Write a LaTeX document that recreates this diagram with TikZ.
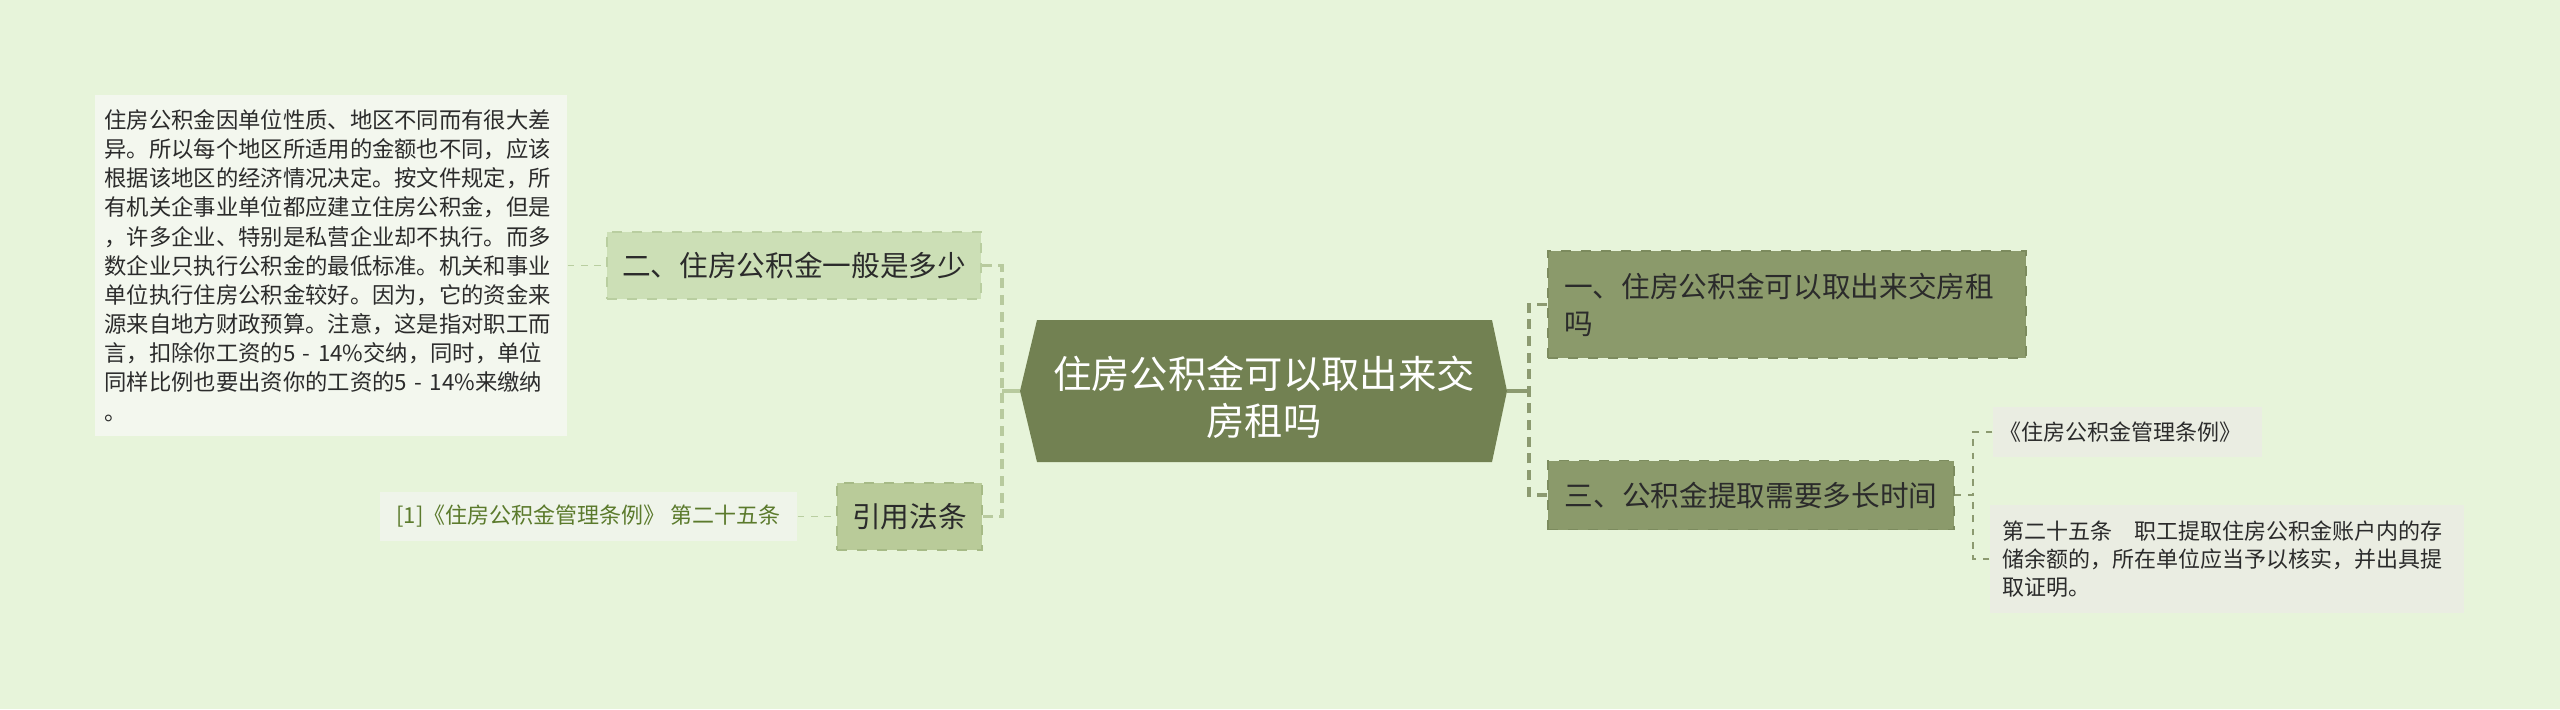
\documentclass[tikz,border=0pt]{standalone}
\usepackage{fontspec}
\setmainfont{Noto Sans CJK SC}
\usetikzlibrary{positioning}
\definecolor{bgc}{HTML}{E7F4DA}
\definecolor{rootc}{HTML}{728152}
\definecolor{darkc}{HTML}{8B9A6B}
\definecolor{darkline}{HTML}{7C8B5E}
\definecolor{lightc}{HTML}{CCDFB6}
\definecolor{lightline}{HTML}{B9CEA0}
\definecolor{lawc}{HTML}{B9CB99}
\definecolor{lawline}{HTML}{A6BA86}
\definecolor{notec}{HTML}{F3F7EE}
\definecolor{citec}{HTML}{EFF4EA}
\definecolor{citetext}{HTML}{5B7A2C}
\definecolor{leafc}{HTML}{EAEDE2}
\definecolor{textc}{HTML}{2B2B2B}
\definecolor{trunkL}{HTML}{B8CA9E}
\definecolor{trunkR}{HTML}{8C9A70}
\tikzset{
  topicdark/.style={rectangle, fill=darkc, draw=darkline, dashed, line width=0.35pt,
    text=textc, inner sep=0pt, font=\fontsize{8.6pt}{11.1pt}\selectfont},
  topiclight/.style={rectangle, fill=lightc, draw=lightline, dashed, line width=0.35pt,
    text=textc, inner sep=0pt, font=\fontsize{8.6pt}{11.1pt}\selectfont},
  note/.style={rectangle, fill=notec, inner sep=0pt, text=textc,
    font=\fontsize{6.7pt}{8.75pt}\selectfont},
  leaf/.style={rectangle, fill=leafc, inner sep=0pt, text=textc,
    font=\fontsize{6.6pt}{8.4pt}\selectfont},
  stub/.style={line width=1.2pt},
  trunk/.style={line width=1.1pt, dash pattern=on 3pt off 2pt},
  twig/.style={line width=0.45pt, dash pattern=on 2pt off 2pt}
}
\begin{document}
\begin{tikzpicture}[x=0.3pt, y=-0.3pt]
	\useasboundingbox (0,0) rectangle (2560,709);
	\fill [bgc] (0,0) rectangle (2560,709);

	\fill [rootc] (1020,391) -- (1037,320) -- (1492,320) -- (1507,391) -- (1492,462) -- (1037,462) -- cycle;
	\coordinate (rootW) at (1020,391);
	\coordinate (rootE) at (1507,391);
	\node [text=white, align=center, font=\fontsize{11.5pt}{14pt}\selectfont] (root) at (1264,397)
		{住房公积金可以取出来交\\房租吗};

	\node [topicdark, minimum width=143.4pt, minimum height=32.1pt, text width=133.8pt, align=left] (q1) at (1787,304.5)
		{一、住房公积金可以取出来交房租\\吗};
	\node [topicdark, minimum width=121.8pt, minimum height=20.7pt] (q3) at (1751,495)
		{三、公积金提取需要多长时间};
	\node [topiclight, minimum width=112.2pt, minimum height=20.1pt] (q2) at (794,265.5)
		{二、住房公积金一般是多少};
	\node [topiclight, fill=lawc, draw=lawline, minimum width=43.5pt, minimum height=20.1pt] (law) at (909.5,516.5)
		{引用法条};

	\node [note, minimum width=141.6pt, minimum height=102.3pt, text width=136pt, align=left] (note) at (331,265.5)
		{住房公积金因单位性质、地区不同而有很大差\\
		异。所以每个地区所适用的金额也不同，应该\\
		根据该地区的经济情况决定。按文件规定，所\\
		有机关企事业单位都应建立住房公积金，但是\\
		，许多企业、特别是私营企业却不执行。而多\\
		数企业只执行公积金的最低标准。机关和事业\\
		单位执行住房公积金较好。因为，它的资金来\\
		源来自地方财政预算。注意，这是指对职工而\\
		言，扣除你工资的5 - 14\%交纳，同时，单位\\
		同样比例也要出资你的工资的5 - 14\%来缴纳\\
		。};
	\node [leaf, fill=citec, text=citetext, minimum width=125.1pt, minimum height=14.7pt] (cite) at (588.5,516.5)
		{[1]《住房公积金管理条例》 第二十五条};

	\node [leaf, minimum width=80.7pt, minimum height=15pt, text width=77pt, align=left] (r1) at (2127.5,432)
		{《住房公积金管理条例》};
	\node [leaf, minimum width=142.2pt, minimum height=32.4pt, text width=135pt, align=left] (r2) at (2227,559)
		{第二十五条　职工提取住房公积金账户内的存\\
		储余额的，所在单位应当予以核实，并出具提\\
		取证明。};

	\coordinate (lj) at (1002,391);
	\coordinate (rj) at (1529,391);
	\coordinate (cj) at (1973,495);

	\draw [stub, trunkL] (rootW) -- (lj);
	\draw [trunk, trunkL] (q2.east) -| (lj);
	\draw [trunk, trunkL] (law.east) -| (lj);
	\draw [stub, trunkR] (rootE) -- (rj);
	\draw [trunk, trunkR] (q1.west) -| (rj);
	\draw [trunk, trunkR] (q3.west) -| (rj);

	\draw [twig, lightline] (note.east) -- (q2.west);
	\draw [twig, lightline] (cite.east) -- (law.west);
	\draw [twig, trunkR] (q3.east) -- (cj);
	\draw [twig, trunkR] (r1.west) -| (cj);
	\draw [twig, trunkR] (r2.west) -| (cj);
\end{tikzpicture}
\end{document}
